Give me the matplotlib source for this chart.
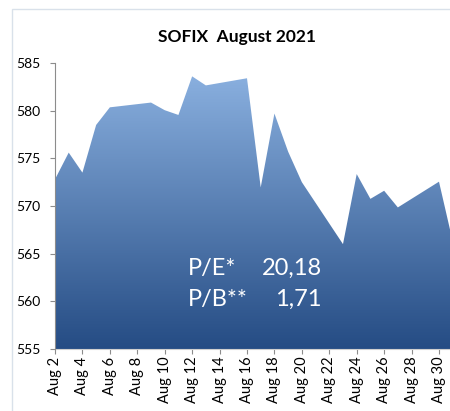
import numpy as np
import matplotlib
matplotlib.use("Agg")
import matplotlib.pyplot as plt
from matplotlib.patches import Rectangle
from matplotlib.colors import LinearSegmentedColormap

plt.rcParams['font.family'] = ['Lato', 'DejaVu Sans']

# Data: trading days of August 2021 and SOFIX closing values
days = [2, 3, 4, 5, 6, 9, 10, 11, 12, 13, 16, 17, 18, 19, 20, 23, 24, 25, 26, 27, 30, 31]
values = [572.8, 575.6, 573.5, 578.5, 580.35, 580.85, 580.05, 579.55, 583.6, 582.65,
          583.4, 571.95, 579.7, 575.7, 572.5, 566.0, 573.35, 570.75, 571.6, 569.85,
          572.55, 566.3]
tick_days = list(range(2, 31, 2))
tick_labels = [f"Aug {d}" for d in tick_days]
y_ticks = [555, 560, 565, 570, 575, 580, 585]
title = "SOFIX  August 2021"
pe_label, pe_value = "P/E*", "20,18"
pb_label, pb_value = "P/B**", "1,71"

W, H = 450, 411
fig = plt.figure(figsize=(W / 100, H / 100), dpi=100)

# outer chart frame
fig.patches.append(Rectangle((12 / W, -0.1), 1.0, (H - 9) / H + 0.1, transform=fig.transFigure,
                             fill=False, edgecolor='#D9E1EA', linewidth=1.0))

left, right, top, bottom = 55, 452.7, 63, 349
ax = fig.add_axes([left / W, (H - bottom) / H, (right - left) / W, (bottom - top) / H])
ax.set_xlim(2, 31)
ax.set_ylim(555, 585)

ymin = 555
poly = ax.fill_between(days, values, ymin, color='none', linewidth=0)
cmap = LinearSegmentedColormap.from_list('g', ['#254C84', '#8EB4E3'])
grad = np.linspace(0, 1, 256).reshape(-1, 1)
im = ax.imshow(grad, cmap=cmap, aspect='auto', origin='lower',
               extent=[2, 31, 555, 585], zorder=1)
im.set_clip_path(poly.get_paths()[0], transform=ax.transData)

for s in ['top', 'right']:
    ax.spines[s].set_visible(False)
ax.spines['left'].set_color('#8C8C8C')
ax.spines['bottom'].set_color('#D0D0D0')
ax.spines['left'].set_zorder(3)

ax.set_yticks(y_ticks)
ax.set_yticklabels([str(v) for v in y_ticks], fontsize=10)
ax.set_xticks(tick_days)
ax.set_xticklabels(tick_labels, rotation=90, fontsize=10.5)
ax.tick_params(axis='y', direction='out', length=3.6, color='#8C8C8C', pad=7)
ax.tick_params(axis='x', direction='out', length=3.6, color='#8C8C8C', pad=2)

fig.text(237 / W, 1 - 37 / H, title, ha='center', va='center', fontsize=12.5, fontweight='bold')

fs = 17
fig.text(188 / W, 1 - 275 / H, pe_label, color='white', fontsize=fs, ha='left', va='baseline')
fig.text(322 / W, 1 - 275 / H, pe_value, color='white', fontsize=fs, ha='right', va='baseline')
fig.text(188 / W, 1 - 306 / H, pb_label, color='white', fontsize=fs, ha='left', va='baseline')
fig.text(322 / W, 1 - 306 / H, pb_value, color='white', fontsize=fs, ha='right', va='baseline')

fig.savefig('out.png', dpi=100)
